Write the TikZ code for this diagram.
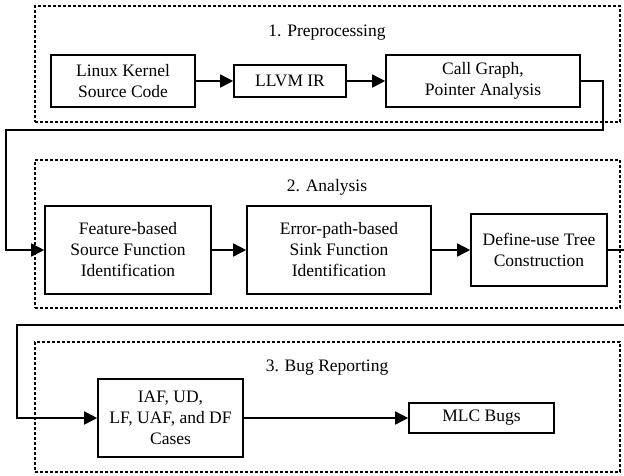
\documentclass[tikz,border=0pt]{standalone}
\usepackage{fontspec}
\setmainfont{Liberation Serif}
\usetikzlibrary{arrows.meta}
\newcommand\diagfont{\fontsize{17.5}{21}\selectfont}
\begin{document}
\begin{tikzpicture}[x=1pt,y=-1pt,
  box/.style={draw, line width=1.6pt, align=center, inner sep=0pt, font=\diagfont},
  stage/.style={draw, line width=1.4pt, dash pattern=on 3pt off 2pt, inner sep=0pt},
  title/.style={font=\diagfont, inner sep=0pt},
  arr/.style={line width=1.6pt, -{Triangle[length=13pt,width=13pt]}}]
\useasboundingbox (0,0) rectangle (624,475);
% stages
\node[stage, minimum width=585, minimum height=116] (s1) at (327.5,64) {};
\node[stage, minimum width=585, minimum height=148] (s2) at (327.5,234) {};
\node[stage, minimum width=585, minimum height=130] (s3) at (327.5,407) {};
\node[title] (t1) at (327,33) {1. Preprocessing};
\node[title] (t2) at (327,187) {2. Analysis};
\node[title] (t3) at (327,368) {3. Bug Reporting};
% boxes
\node[box, minimum width=144, minimum height=52] (linux) at (123,81) {Linux Kernel\\Source Code};
\node[box, minimum width=112, minimum height=32] (llvm) at (290,81) {LLVM IR};
\node[box, minimum width=194, minimum height=52] (cg) at (483,81) {Call Graph,\\Pointer Analysis};
\node[box, minimum width=166, minimum height=88] (feat) at (128,250) {Feature-based\\Source Function\\Identification};
\node[box, minimum width=184, minimum height=88] (err) at (339,250) {Error-path-based\\Sink Function\\Identification};
\node[box, minimum width=136, minimum height=72] (def) at (539,250) {Define-use Tree\\Construction};
\node[box, minimum width=145, minimum height=78] (iaf) at (170.5,418) {IAF, UD,\\LF, UAF, and DF\\Cases};
\node[box, minimum width=145, minimum height=30] (mlc) at (481.5,418) {MLC Bugs};
% connectors
\coordinate (r1) at (603,130);
\coordinate (l1) at (6,130);
\coordinate (r2) at (627,325);
\coordinate (l2) at (17,325);
\draw[arr] (linux.east) -- (llvm.west);
\draw[arr] (llvm.east) -- (cg.west);
\draw[arr] (cg.east) -| (r1) -- (l1) |- (feat.west);
\draw[arr] (feat.east) -- (err.west);
\draw[arr] (err.east) -- (def.west);
\draw[arr] (def.east) -| (r2) -- (l2) |- (iaf.west);
\draw[arr] (iaf.east) -- (mlc.west);
\end{tikzpicture}
\end{document}
